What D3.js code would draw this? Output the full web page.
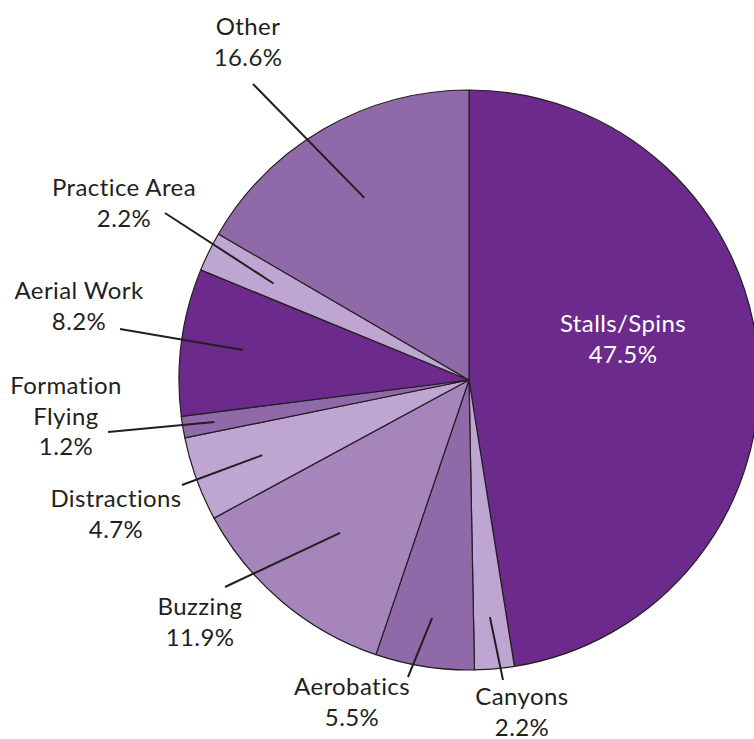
<!DOCTYPE html>
<html><head><meta charset="utf-8">
<script src="https://cdn.jsdelivr.net/npm/d3@7"></script>
<style>html,body{margin:0;padding:0;background:#fff;overflow:hidden}</style>
</head><body><svg id="c" width="754" height="739"></svg>
<script>
// Data
const categories = ["Stalls/Spins","Canyons","Aerobatics","Buzzing","Distractions","Formation Flying","Aerial Work","Practice Area","Other"];
const values = [47.5, 2.2, 5.5, 11.9, 4.7, 1.2, 8.2, 2.2, 16.6];
const labelLines = [["Stalls/Spins"],["Canyons"],["Aerobatics"],["Buzzing"],["Distractions"],["Formation","Flying"],["Aerial Work"],["Practice Area"],["Other"]];
const valueLabels = ["47.5%","2.2%","5.5%","11.9%","4.7%","1.2%","8.2%","2.2%","16.6%"];

// Styles / layout (separate from data)
const colors = ["#6c2a8c","#bfa6d2","#9069a9","#a585bb","#bfa6d2","#9069a9","#6c2a8c","#bfa6d2","#9069a9"];
const cx = 469, cy = 380, R = 290;
// text anchor (first baseline) relative to centre, leader inner radius, leader outer end relative to centre
const textPos = [[154,-48],[53,325],[-117,315],[-269,235],[-353,127],[-403,14],[-390,-81],[-345,-184],[-221,-345]];
const leaderInnerR = [null,238,241,200,220,258,228,218,210];
const leaderOuter = [null,[34,300],[-61,297],[-244,207],[-287,105],[-361,52],[-349,-51],[-304,-167],[-216,-296]];

const svg = d3.select("#c");
const g = svg.append("g").attr("transform",`translate(${cx},${cy})`);
const pie = d3.pie().sort(null).value(d=>d)(values);
const arc = d3.arc().innerRadius(0).outerRadius(R);

g.selectAll("path.slice").data(pie).join("path")
  .attr("class","slice")
  .attr("d",arc)
  .attr("fill",(d,i)=>colors[i])
  .attr("stroke","#231f20")
  .attr("stroke-width",1.2)
  .attr("stroke-linejoin","round");

// leader lines
pie.forEach((d,i)=>{
  if(leaderInnerR[i]==null) return;
  const inner = d3.arc().innerRadius(leaderInnerR[i]).outerRadius(leaderInnerR[i]).centroid(d);
  g.append("line")
    .attr("x1",leaderOuter[i][0]).attr("y1",leaderOuter[i][1])
    .attr("x2",inner[0]).attr("y2",inner[1])
    .attr("stroke","#231f20").attr("stroke-width",2);
});

// labels
const lineH = 30.5;
pie.forEach((d,i)=>{
  const lines = labelLines[i].concat([valueLabels[i]]);
  const t = g.append("text")
    .attr("x",textPos[i][0]).attr("y",textPos[i][1])
    .attr("text-anchor","middle")
    .attr("font-family","Lato, 'DejaVu Sans', sans-serif")
    .attr("font-weight",400)
    .attr("font-size",24)
    .attr("letter-spacing",0.4)
    .attr("fill", i===0 ? "#ffffff" : "#231f20");
  lines.forEach((s,k)=>{
    t.append("tspan").attr("x",textPos[i][0]).attr("dy",k===0?0:lineH).text(s);
  });
});
</script>
</body></html>
